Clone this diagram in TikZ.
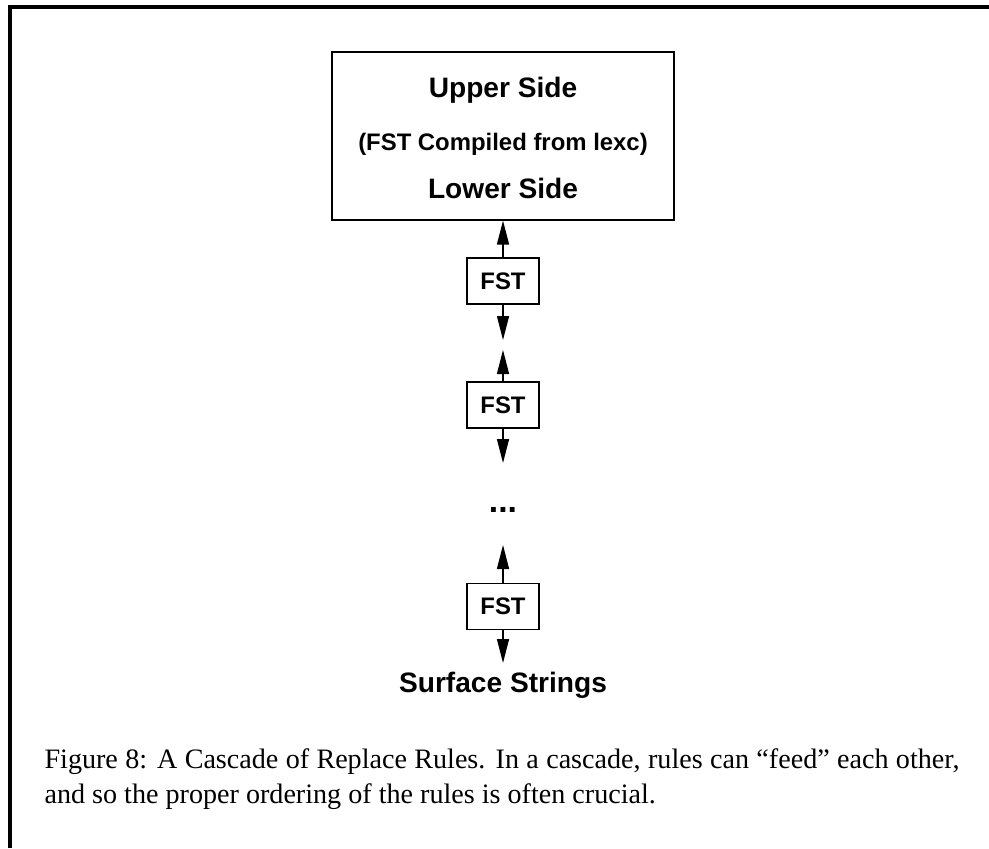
\documentclass[tikz,border=0pt]{standalone}
\usepackage{fontspec}
\setmainfont{Liberation Serif}
\setsansfont{Liberation Sans}
\usetikzlibrary{arrows.meta}

\begin{document}
\begin{tikzpicture}[
        lbl/.style={font=\sffamily\bfseries\fontsize{10}{12}\selectfont},
        sublbl/.style={font=\sffamily\bfseries\fontsize{8.5}{10}\selectfont},
        fstbox/.style={draw, line width=0.4pt, minimum width=0.9cm, minimum height=0.575cm, inner sep=0pt, sublbl},
        feed/.style={line width=0.5pt, -{Triangle[length=0.3cm,width=0.15cm]}}
    ]
        % page and frame
        \useasboundingbox (0,0) rectangle (12.3625,-10.6);
        \draw[line width=0.05cm] (0.125,-10.6) -- (0.125,-0.0875) -- (12.3625,-0.0875);

        % coordinates
        \coordinate (c1) at (6.2875,-1.7);
        \coordinate (f1) at (6.2875,-3.5125);
        \coordinate (f2) at (6.2875,-5.0625);
        \coordinate (f3) at (6.2875,-7.58);
        \coordinate (f1d) at (6.2875,-4.25);
        \coordinate (f2u) at (6.2875,-4.375);
        \coordinate (f2d) at (6.2875,-5.7875);
        \coordinate (f3u) at (6.2875,-6.8125);
        \coordinate (f3d) at (6.2875,-8.2875);

        % lexicon box
        \node[draw, line width=0.4pt, minimum width=4.275cm, minimum height=2.1cm] (lexc) at (c1) {};
        \node[lbl, anchor=base] (upper) at (6.2875,-1.225) {Upper Side};
        \node[sublbl, anchor=base] (compiled) at (6.2875,-1.8875) {(FST Compiled from lexc)};
        \node[lbl, anchor=base] (lower) at (6.2875,-2.4875) {Lower Side};

        % rule transducers
        \node[fstbox] (fst1) at (f1) {FST};
        \node[fstbox] (fst2) at (f2) {FST};
        \node[lbl, font=\sffamily\bfseries\fontsize{12}{14}\selectfont] (dots) at (6.2875,-6.375) {...};
        \node[fstbox] (fst3) at (f3) {FST};
        \node[lbl, anchor=base] (surface) at (6.2875,-8.66) {Surface Strings};

        % arrows
        \draw[feed] (fst1.north) -- (lexc.south);
        \draw[feed] (fst1.south) -- (f1d);
        \draw[feed] (fst2.north) -- (f2u);
        \draw[feed] (fst2.south) -- (f2d);
        \draw[feed] (fst3.north) -- (f3u);
        \draw[feed] (fst3.south) -- (f3d);

        % caption
        \node[anchor=north west, inner sep=0pt, text width=11.4375cm, align=justify,
              font=\fontsize{10}{12.4}\selectfont] (caption) at (0.55,-9.35)
            {Figure 8: A Cascade of Replace Rules. In a cascade, rules can ``feed'' each other,\linebreak
             and so the proper ordering of the rules is often crucial.};
    \end{tikzpicture}
\end{document}
